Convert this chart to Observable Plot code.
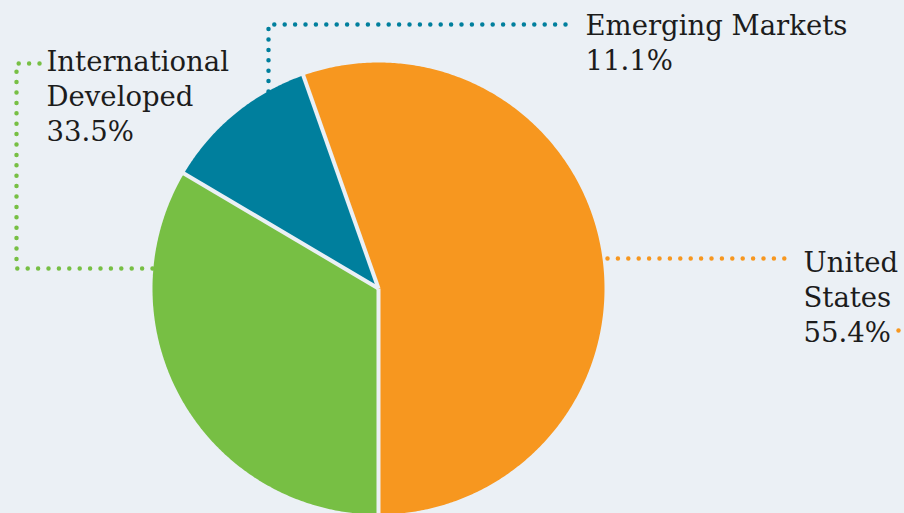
<!DOCTYPE html>
<html><head><meta charset="utf-8">
<script src="https://cdn.jsdelivr.net/npm/d3@7"></script>
<script src="https://cdn.jsdelivr.net/npm/@observablehq/plot@0.6"></script>
<style>html,body{margin:0;padding:0;background:#ebf0f5;overflow:hidden}</style>
</head><body><div id="chart"></div>
<script>
// ---- data ----
const categories = ["International\nDeveloped", "Emerging Markets", "United\nStates"];
const shares = [33.5, 11.1, 55.4];
const shareLabels = ["33.5%", "11.1%", "55.4%"];
const colors = ["#77bf44", "#007f9d", "#f7971f"];

// ---- layout ----
const W = 904, H = 513, cx = 378, cy = 288, R = 226;
const BG = "#ebf0f5";
const leaders = [
  [[152, 268], [16, 268], [16, 63], [40, 63]],
  [[268, 91], [268, 24], [574, 24]],
  [[607, 258], [790, 258]]
];
const labelPos = [[46, 46.2], [585, 9.5], [803, 247.2]];
const extraDot = [{x: 898, y: 330, c: 2}];

const arcs = d3.pie().sort(null).value(d => d).startAngle(Math.PI).endAngle(3 * Math.PI)(shares);
const pt = (a, r) => [cx + r * Math.sin(a), cy - r * Math.cos(a)];

const slicePts = [];
arcs.forEach((a, i) => {
  slicePts.push({x: cx, y: cy, s: i});
  const n = Math.max(2, Math.ceil((a.endAngle - a.startAngle) / (Math.PI / 360)));
  for (let k = 0; k <= n; k++) {
    const ang = a.startAngle + (a.endAngle - a.startAngle) * k / n;
    const [x, y] = pt(ang, R);
    slicePts.push({x, y, s: i});
  }
  slicePts.push({x: cx, y: cy, s: i});
});
const seps = arcs.map((a) => {
  const [x2, y2] = pt(a.startAngle, R + 3);
  return {x1: cx, y1: cy, x2, y2};
});
const leaderPts = leaders.flatMap((l, i) => l.map(([x, y]) => ({x, y, s: i})));
const labels = categories.map((c, i) => ({x: labelPos[i][0], y: labelPos[i][1], t: c + "\n" + shareLabels[i]}));

const chart = Plot.plot({
  width: W, height: H, margin: 0,
  x: {domain: [0, W], range: [0, W], axis: null},
  y: {domain: [0, H], range: [0, H], axis: null},
  color: {domain: [0, 1, 2], range: colors},
  style: {background: BG, fontFamily: "DejaVu Serif"},
  marks: [
    Plot.line(slicePts, {x: "x", y: "y", z: "s", fill: "s", stroke: "none", curve: "linear"}),
    Plot.link(seps, {x1: "x1", y1: "y1", x2: "x2", y2: "y2", stroke: BG, strokeWidth: 4, strokeLinecap: "butt"}),
    Plot.line(leaderPts, {x: "x", y: "y", z: "s", stroke: "s", strokeWidth: 4.5, strokeDasharray: "0 10.4", strokeLinecap: "round", strokeLinejoin: "round", curve: "linear"}),
    Plot.dot(extraDot, {x: "x", y: "y", fill: "c", r: 2.2, stroke: null}),
    Plot.text(labels, {x: "x", y: "y", text: "t", textAnchor: "start", lineAnchor: "top", fontSize: 27.5, lineHeight: 1.27, fill: "#1c1c1c"})
  ]
});
document.getElementById("chart").appendChild(chart);
</script></body></html>
